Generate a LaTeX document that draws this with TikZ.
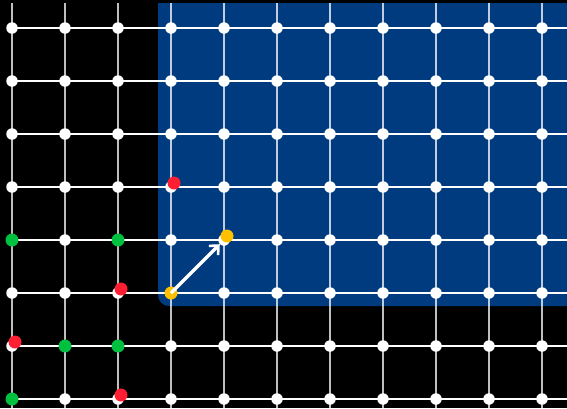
\documentclass[tikz,border=0pt]{standalone}
\usetikzlibrary{arrows.meta}
\definecolor{bgblue}{RGB}{0,59,128}
\definecolor{dotgreen}{RGB}{0,192,64}
\definecolor{dotred}{RGB}{255,30,50}
\definecolor{dotyellow}{RGB}{255,192,0}
\tikzset{
  vline/.style={draw=white, draw opacity=0.75, line width=1.3pt},
  hline/.style={draw=white, line width=1.3pt},
  wdot/.style={circle, fill=white, inner sep=0pt, minimum size=11.5pt},
  gdot/.style={circle, fill=dotgreen, inner sep=0pt, minimum size=13pt},
  rdot/.style={circle, fill=dotred, inner sep=0pt, minimum size=13pt},
  ydot/.style={circle, fill=dotyellow, inner sep=0pt, minimum size=13pt},
}
\begin{document}
\begin{tikzpicture}[x=1pt,y=-1pt]
\fill[black] (0,0) rectangle (567,408);
\useasboundingbox (0,0) rectangle (567,408);
\fill[bgblue, rounded corners=11pt] (158,3) rectangle (600,306);
\fill[bgblue] (158,3) rectangle (180,30);
\fill[bgblue] (540,3) rectangle (600,30);
% grid lines
\foreach \i in {0,...,10} {
  \draw[vline] (12+53*\i,3) -- (12+53*\i,408);
}
\foreach \j in {0,...,7} {
  \draw[hline] (12,28+53*\j) -- (567,28+53*\j);
}
% white dots
\foreach \i in {0,...,10} {
  \foreach \j in {0,...,7} {
    \node[wdot] (w\i-\j) at (12+53*\i,28+53*\j) {};
  }
}
% colored dots
\node[rdot] (r1) at (174,183) {};
\node[gdot] (g1) at (12,240) {};
\node[gdot] (g2) at (118,240) {};
\node[ydot] (y2) at (227,236) {};
\node[rdot] (r2) at (121,289) {};
\node[ydot] (y1) at (171,293) {};
\node[rdot] (r3) at (15,342) {};
\node[gdot] (g3) at (65,346) {};
\node[gdot] (g4) at (118,346) {};
\node[gdot] (g5) at (12,399) {};
\node[rdot] (r4) at (121,395) {};
% arrow
\draw[white, line width=3.5pt, -{Straight Barb[length=7pt,width=13pt,line width=2.6pt]}] (y1.center) -- (w4-4);
\end{tikzpicture}
\end{document}
